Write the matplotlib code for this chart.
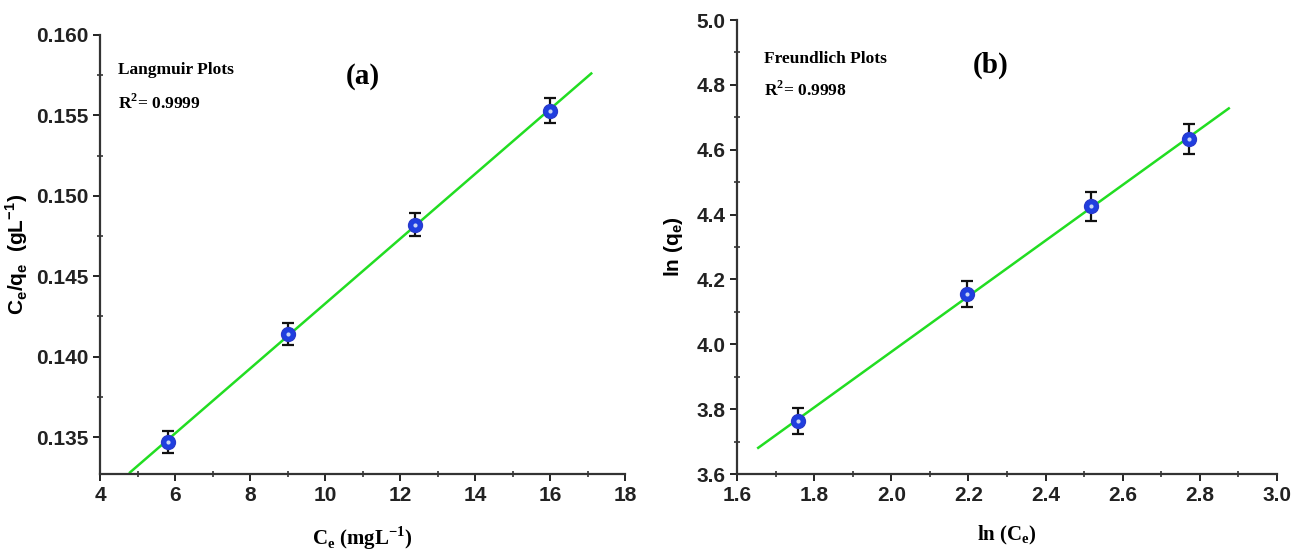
import matplotlib
matplotlib.use("Agg")
import matplotlib.pyplot as plt
from matplotlib.ticker import MultipleLocator, AutoMinorLocator, FormatStrFormatter
import numpy as np

# Langmuir isotherm: Ce vs Ce/qe
lang_ce = [5.8, 9.0, 12.4, 16.0]
lang_ratio = [0.1347, 0.1414, 0.1482, 0.1553]
lang_err = [0.0007, 0.0007, 0.0007, 0.0008]
lang_fit_range = [4.8, 17.1]

# Freundlich isotherm: ln(Ce) vs ln(qe)
freu_lnce = [1.757, 2.197, 2.518, 2.773]
freu_lnqe = [3.762, 4.155, 4.425, 4.633]
freu_err = [0.04, 0.04, 0.045, 0.045]
freu_fit_range = [1.655, 2.875]

SANS = "Liberation Sans"
SERIF = "Liberation Serif"


def style_axes(ax):
    ax.spines["top"].set_visible(False)
    ax.spines["right"].set_visible(False)
    for s in ("left", "bottom"):
        ax.spines[s].set_linewidth(1.6)
        ax.spines[s].set_color("#333333")
    ax.xaxis.set_minor_locator(AutoMinorLocator(2))
    ax.yaxis.set_minor_locator(AutoMinorLocator(2))
    ax.tick_params(which="major", direction="out", length=5, width=1.4,
                   labelsize=15, colors="#222222")
    ax.tick_params(which="minor", direction="inout", length=5, width=1.2,
                   colors="#333333")
    for lbl in ax.get_xticklabels() + ax.get_yticklabels():
        lbl.set_fontfamily(SANS)
        lbl.set_fontweight("bold")


def draw_panel(ax, x, y, err, fit_range):
    slope, intercept = np.polyfit(x, y, 1)
    xf = np.array(fit_range)
    ax.plot(xf, slope * xf + intercept, color="#22dd22", lw=1.8, zorder=2)
    ax.errorbar(x, y, yerr=err, fmt="none", ecolor="#111111", elinewidth=1.6,
                capsize=4, capthick=1.6, zorder=3)
    ax.plot(x, y, "o", ms=10, mfc="#1f3fe0", mec="#2a3acc", zorder=4)
    ax.plot(x, y, "o", ms=3, mfc="#c8d4f4", mec="none", zorder=5)


fig = plt.figure(figsize=(13.02, 5.56), dpi=100)
ax1 = fig.add_axes([100 / 1302, 82 / 556, 525 / 1302, 439 / 556])
ax2 = fig.add_axes([737 / 1302, 82 / 556, 540 / 1302, 454 / 556])

# (a) Langmuir
draw_panel(ax1, lang_ce, lang_ratio, lang_err, lang_fit_range)
ax1.set_xlim(4, 18)
ax1.set_ylim(0.1327, 0.160)
ax1.xaxis.set_major_locator(MultipleLocator(2))
ax1.yaxis.set_major_locator(MultipleLocator(0.005))
ax1.yaxis.set_major_formatter(FormatStrFormatter("%.3f"))
style_axes(ax1)
ax1.set_xlabel(r"C$_\mathregular{e}$ (mgL$^\mathregular{-1}$)", family=SERIF,
               fontweight="bold", fontsize=15, labelpad=14)
ax1.set_ylabel(r"C$_\mathregular{e}$/q$_\mathregular{e}$  (gL$^\mathregular{-1}$)",
               family=SANS, fontweight="bold", fontsize=15, labelpad=4)
ax1.text(0.035, 0.92, "Langmuir Plots", transform=ax1.transAxes, family=SERIF,
         fontweight="bold", fontsize=12.5, va="center")
ax1.text(0.035, 0.845, r"R$^\mathregular{2}$= 0.9999", transform=ax1.transAxes,
         family=SERIF, fontweight="bold", fontsize=12.5, va="center")
ax1.text(0.5, 0.905, "(a)", transform=ax1.transAxes, family=SERIF,
         fontweight="bold", fontsize=21, ha="center", va="center")

# (b) Freundlich
draw_panel(ax2, freu_lnce, freu_lnqe, freu_err, freu_fit_range)
ax2.set_xlim(1.6, 3.0)
ax2.set_ylim(3.6, 5.0)
ax2.xaxis.set_major_locator(MultipleLocator(0.2))
ax2.yaxis.set_major_locator(MultipleLocator(0.2))
ax2.xaxis.set_major_formatter(FormatStrFormatter("%.1f"))
ax2.yaxis.set_major_formatter(FormatStrFormatter("%.1f"))
style_axes(ax2)
ax2.set_xlabel(r"ln (C$_\mathregular{e}$)", family=SERIF, fontweight="bold",
               fontsize=15, labelpad=14)
ax2.set_ylabel(r"ln (q$_\mathregular{e}$)", family=SANS, fontweight="bold",
               fontsize=15, labelpad=8)
ax2.text(0.05, 0.915, "Freundlich Plots", transform=ax2.transAxes, family=SERIF,
         fontweight="bold", fontsize=12.5, va="center")
ax2.text(0.05, 0.845, r"R$^\mathregular{2}$= 0.9998", transform=ax2.transAxes,
         family=SERIF, fontweight="bold", fontsize=12.5, va="center")
ax2.text(0.47, 0.9, "(b)", transform=ax2.transAxes, family=SERIF,
         fontweight="bold", fontsize=21, ha="center", va="center")

fig.savefig("out.png", dpi=100)
